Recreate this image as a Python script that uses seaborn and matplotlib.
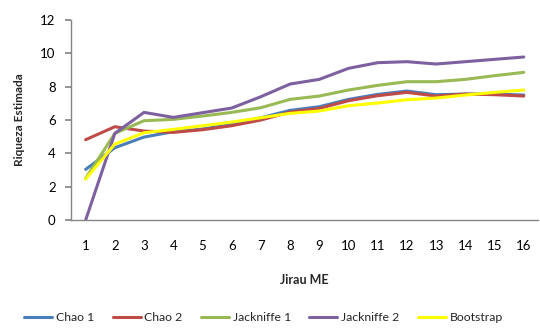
import matplotlib
matplotlib.use("Agg")
import matplotlib.pyplot as plt
import seaborn as sns
import pandas as pd
from matplotlib.lines import Line2D

samples = list(range(1, 17))
chao1 = [3.04, 4.34, 4.98, 5.30, 5.46, 5.74, 6.14, 6.58, 6.80, 7.24, 7.54, 7.74, 7.52, 7.56, 7.56, 7.50]
chao2 = [4.82, 5.60, 5.34, 5.26, 5.42, 5.66, 6.00, 6.48, 6.70, 7.16, 7.46, 7.66, 7.44, 7.56, 7.52, 7.44]
jack1 = [2.50, 5.20, 5.96, 6.04, 6.24, 6.46, 6.74, 7.24, 7.44, 7.80, 8.08, 8.30, 8.30, 8.44, 8.66, 8.86]
jack2 = [0.00, 5.20, 6.46, 6.16, 6.44, 6.72, 7.40, 8.16, 8.44, 9.10, 9.44, 9.50, 9.36, 9.50, 9.64, 9.78]
boot = [2.46, 4.56, 5.24, 5.44, 5.66, 5.88, 6.14, 6.40, 6.54, 6.86, 7.02, 7.22, 7.32, 7.50, 7.66, 7.80]

series_names = ["Chao 1", "Chao 2", "Jackniffe 1", "Jackniffe 2", "Bootstrap"]
series_vals = [chao1, chao2, jack1, jack2, boot]
colors = ["#4A7EBB", "#BE4B48", "#98B954", "#7D60A0", "#FFFF00"]

rows = []
for name, vals in zip(series_names, series_vals):
    for x, v in zip(samples, vals):
        rows.append({"x": x, "y": v, "serie": name})
df = pd.DataFrame(rows)

sns.set_theme(style="white")
plt.rcParams["font.family"] = ["Lato", "DejaVu Sans"]

fig = plt.figure(figsize=(5.4, 3.31), dpi=100)
ax = fig.add_axes([0.1315, 0.335, 0.8655, 0.6046])

sns.lineplot(data=df, x="x", y="y", hue="serie", hue_order=series_names,
             palette=dict(zip(series_names, colors)), linewidth=2.2,
             sort=False, legend=False, ax=ax)

ax.set_xlim(0.5, 16.5)
ax.set_ylim(0, 12)
ax.set_xticks(samples)
ax.set_xticklabels([str(s) for s in samples])
ax.set_yticks(range(0, 13, 2))
for s in ["top", "right"]:
    ax.spines[s].set_visible(False)
for s in ["left", "bottom"]:
    ax.spines[s].set_color("#868686")
    ax.spines[s].set_linewidth(1.0)
ax.tick_params(axis="y", which="both", left=True, length=4, color="#868686",
               labelsize=9.5, pad=7, labelcolor="black")
ax.tick_params(axis="x", which="both", bottom=False, labelsize=9.5, pad=8, labelcolor="black")
ax.grid(False)

ax.set_xlabel("Jirau ME", fontsize=9, fontweight="bold", labelpad=16)
ax.set_ylabel("Riqueza Estimada", fontsize=8.5, fontweight="bold", labelpad=11)

handles = [Line2D([0], [0], color=c, lw=2.2) for c in colors]
fig.legend(handles, series_names, loc="center", bbox_to_anchor=(0.488, 0.04),
           ncol=5, frameon=False, fontsize=8.8, handlelength=2.3,
           columnspacing=1.5, handletextpad=0.3)

fig.savefig("out.png", dpi=100)
